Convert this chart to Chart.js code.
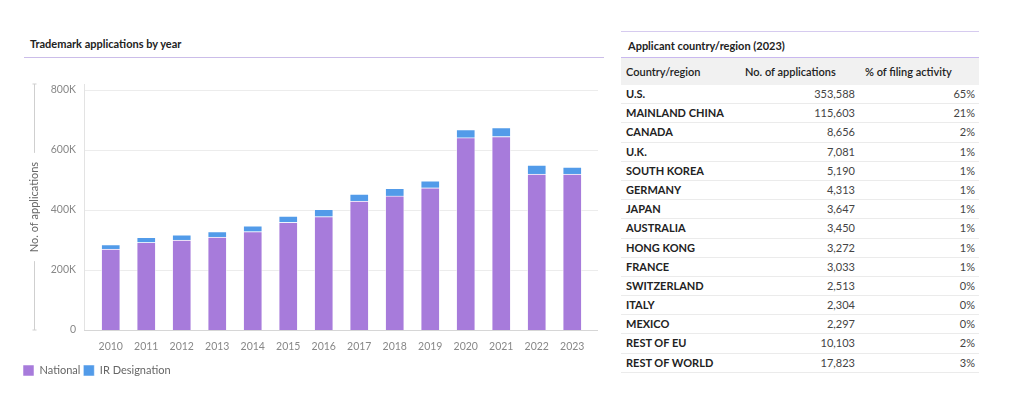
<!DOCTYPE html>
<html lang="en">

<head>
    <meta charset="UTF-8">
    <title>Trademark applications</title>
    <script src="https://cdn.jsdelivr.net/npm/chart.js"></script>
    <style>
        body { margin: 0; width: 1024px; height: 394px; background: #fff; font-family: Lato, sans-serif; position: relative; overflow: hidden; }
        #titolo { position: absolute; left: 30px; top: 37px; font-size: 11px; font-weight: 700; color: #222; }
        #lineaTitolo { position: absolute; left: 24px; top: 57px; width: 580px; height: 1px; background: #cbbde9; }
        #contenitore { position: absolute; left: 20px; top: 0; width: 590px; height: 394px; }
        #tabella { position: absolute; left: 621px; top: 31px; width: 358px; border-top: 1px solid #d6cbef; color: #222; }
        #tabella .titolo { height: 25px; line-height: 27px; padding-left: 7px; font-size: 11px; font-weight: 700; border-bottom: 1px solid #c9b8ef; }
        #tabella .riga { display: grid; grid-template-columns: 119px 115px 120px; height: 18.2px; line-height: 18.2px; border-bottom: 1px solid #ebebeb; font-size: 11px; }
        #tabella .intestazione { height: 27px; line-height: 27px; background: #f1f1f1; border-bottom: none; font-weight: 600; }
        #tabella .riga div:first-child { padding-left: 5px; }
        #tabella .riga .num { text-align: right; color: #444; }
        #tabella .paese { font-weight: 700; }
    </style>
</head>

<body>
    <div id="titolo">Trademark applications by year</div>
    <div id="lineaTitolo"></div>
    <div id="contenitore"><canvas id="grafico"></canvas></div>
    <div id="tabella"></div>

    <script>
        // Dati del grafico
        const anni = ['2010', '2011', '2012', '2013', '2014', '2015', '2016', '2017', '2018', '2019', '2020', '2021', '2022', '2023'];
        const nazionali = [270000, 292000, 300000, 310000, 328000, 359000, 378000, 430000, 447000, 474000, 641000, 645000, 520000, 520000];
        const designazioniIR = [15000, 17000, 17000, 18000, 19000, 21000, 24000, 23000, 25000, 23000, 27000, 30000, 30000, 23000];
        const tickY = [0, 200000, 400000, 600000, 800000];

        // Dati della tabella
        const paesi = ['U.S.', 'MAINLAND CHINA', 'CANADA', 'U.K.', 'SOUTH KOREA', 'GERMANY', 'JAPAN', 'AUSTRALIA', 'HONG KONG', 'FRANCE', 'SWITZERLAND', 'ITALY', 'MEXICO', 'REST OF EU', 'REST OF WORLD'];
        const domande = ['353,588', '115,603', '8,656', '7,081', '5,190', '4,313', '3,647', '3,450', '3,272', '3,033', '2,513', '2,304', '2,297', '10,103', '17,823'];
        const quote = ['65%', '21%', '2%', '1%', '1%', '1%', '1%', '1%', '1%', '1%', '0%', '0%', '0%', '2%', '3%'];

        // Costruisci la tabella
        let html = '<div class="titolo">Applicant country/region (2023)</div>';
        html += '<div class="riga intestazione"><div>Country/region</div><div style="padding-left:5px">No. of applications</div><div style="padding-left:10px">% of filing activity</div></div>';
        paesi.forEach((p, i) => {
            html += `<div class="riga"><div class="paese">${p}</div><div class="num">${domande[i]}</div><div class="num">${quote[i]}</div></div>`;
        });
        document.getElementById('tabella').innerHTML = html;

        // Griglia e titolo asse disegnati a mano
        const grigliaPlugin = {
            id: 'griglia',
            beforeDatasetsDraw(chart) {
                const { ctx, chartArea, scales } = chart;
                const sx = chartArea.left - 9, dx = chartArea.right + 8;
                ctx.save();
                ctx.lineWidth = 1;
                ctx.strokeStyle = '#ececec';
                tickY.forEach(v => {
                    if (v === 0) return;
                    const y = Math.round(scales.y.getPixelForValue(v)) + 0.5;
                    ctx.beginPath(); ctx.moveTo(sx, y); ctx.lineTo(dx, y); ctx.stroke();
                });
                // bordo verticale
                ctx.strokeStyle = '#e3e3e3';
                ctx.beginPath(); ctx.moveTo(sx + 0.5, chartArea.top - 6); ctx.lineTo(sx + 0.5, chartArea.bottom); ctx.stroke();
                // asse x
                const y0 = Math.round(scales.y.getPixelForValue(0)) + 0.5;
                ctx.strokeStyle = '#d6d6d6';
                ctx.beginPath(); ctx.moveTo(sx, y0); ctx.lineTo(dx, y0); ctx.stroke();

                // linea del titolo dell'asse y
                const tx = 14.5;
                const meta = (chartArea.top + chartArea.bottom) / 2 - 3;
                ctx.font = '11px Lato';
                const meta2 = ctx.measureText('No. of applications').width / 2 + 9;
                const top = chartArea.top - 6, bot = chartArea.bottom;
                ctx.strokeStyle = '#cfcfcf';
                ctx.beginPath();
                ctx.moveTo(tx, top); ctx.lineTo(tx, meta - meta2);
                ctx.moveTo(tx, meta + meta2); ctx.lineTo(tx, bot);
                ctx.moveTo(tx - 2, top); ctx.lineTo(tx + 2, top);
                ctx.moveTo(tx - 2, bot); ctx.lineTo(tx + 2, bot);
                ctx.stroke();
                ctx.translate(tx, meta);
                ctx.rotate(-Math.PI / 2);
                ctx.fillStyle = '#666';
                ctx.textAlign = 'center';
                ctx.textBaseline = 'middle';
                ctx.fillText('No. of applications', 0, 0);
                ctx.restore();
            }
        };

        Chart.defaults.font.family = 'Lato';

        const grafico = new Chart(document.getElementById('grafico').getContext('2d'), {
            type: 'bar',
            data: {
                labels: anni,
                datasets: [{
                    label: 'National',
                    data: nazionali,
                    backgroundColor: '#a77bdb',
                    borderColor: 'rgba(255,255,255,0.5)',
                    borderWidth: 1,
                    barThickness: 19
                }, {
                    label: 'IR Designation',
                    data: designazioniIR,
                    backgroundColor: '#529be9',
                    borderColor: 'rgba(255,255,255,0.5)',
                    borderWidth: 1,
                    barThickness: 19
                }]
            },
            options: {
                responsive: true,
                maintainAspectRatio: false,
                animation: false,
                layout: { padding: { top: 90, right: 20, bottom: 8, left: 0 } },
                plugins: {
                    tooltip: { enabled: false },
                    legend: {
                        position: 'bottom',
                        align: 'start',
                        labels: {
                            boxWidth: 11,
                            boxHeight: 11,
                            padding: 3,
                            color: '#666',
                            font: { size: 11 }
                        }
                    }
                },
                scales: {
                    x: {
                        stacked: true,
                        grid: { display: false },
                        border: { display: false },
                        ticks: { color: '#888', font: { size: 10.5 }, padding: 2, maxRotation: 0 },
                        afterFit(scale) { scale.height = 32; }
                    },
                    y: {
                        stacked: true,
                        min: 0,
                        max: 800000,
                        grid: { display: false },
                        border: { display: false },
                        afterBuildTicks(scale) { scale.ticks = tickY.map(v => ({ value: v })); },
                        ticks: {
                            color: '#888',
                            font: { size: 10.5 },
                            padding: 9,
                            callback: v => v === 0 ? '0' : (v / 1000) + 'K'
                        },
                        afterFit(scale) { scale.width = 73; }
                    }
                }
            },
            plugins: [grigliaPlugin]
        });
    </script>
</body>

</html>
